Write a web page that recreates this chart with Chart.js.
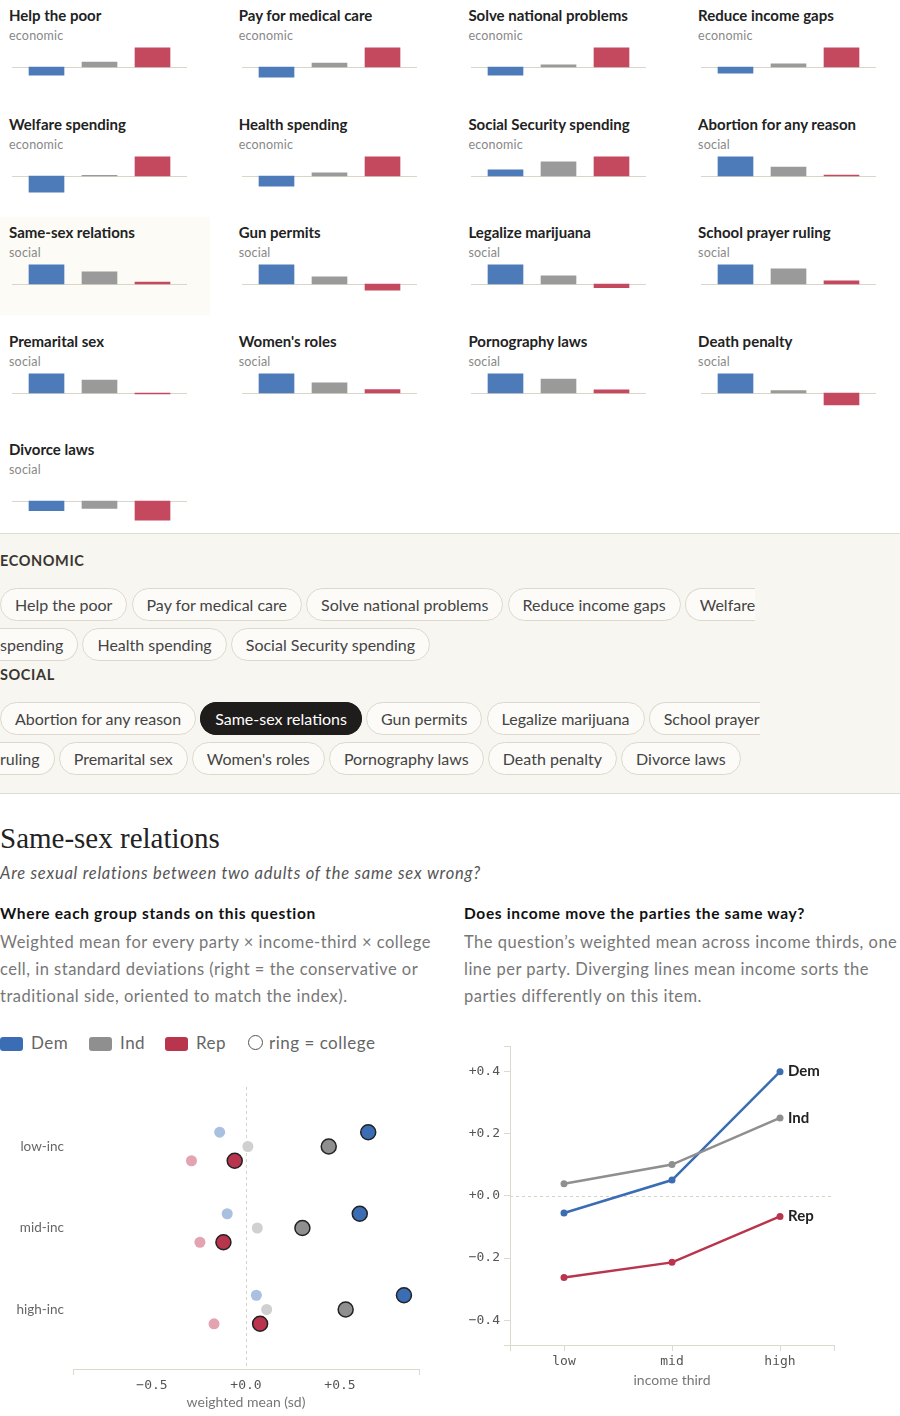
<!DOCTYPE html>
<html>
<head>
<meta charset="utf-8">
<script src="https://cdn.jsdelivr.net/npm/chart.js@4.4.1/dist/chart.umd.min.js"></script>
<style>
  body { margin: 0; width: 900px; height: 1416px; position: relative; overflow: hidden; background: #fff;
         font-family: Lato, "Noto Sans", sans-serif; color: #222; }
  .cell { position: absolute; width: 210px; height: 98px; }
  .cell.sel { background: #fcfbf5; }
  .cell h4 { position: absolute; left: 9px; top: 5px; margin: 0; font-size: 15px; font-weight: 700; line-height: 20px; color: #222; white-space: nowrap; }
  .cell .cat { position: absolute; left: 9px; top: 28px; font-size: 12.5px; line-height: 16px; color: #888; letter-spacing: 0.2px; }
  .cell canvas { position: absolute; left: 0; top: 44px; }
  .panel { position: absolute; left: 0; top: 533px; width: 900px; height: 259px; background: #f7f6f0;
           border-top: 1px solid #e0ddd2; border-bottom: 1px solid #e0ddd2; }
  .panel .lab { position: absolute; left: 0; font-size: 14.5px; font-weight: 700; letter-spacing: 0.6px; line-height: 20px; color: #3a3631; }
  .pills { position: absolute; left: 0; width: 761px; line-height: 40px; font-size: 16px; }
  .pill { padding: 6px 14px; border: 1px solid #dcd8cb; border-radius: 17px; background: #fcfbf8; color: #444; }
  .pill.on { background: #1f1d1b; border-color: #1f1d1b; color: #fff; }
  .abs { position: absolute; white-space: nowrap; }
  h1 { margin: 0; font-family: "Liberation Serif", "DejaVu Serif", serif; font-weight: 400; font-size: 29px; line-height: 36px; color: #222; }
  .q { font-style: italic; font-size: 16.5px; line-height: 22px; color: #555; letter-spacing: 0.75px; }
  .hd { font-weight: 700; font-size: 15.5px; line-height: 20px; color: #111; letter-spacing: 0.65px; }
  .body { font-size: 16.5px; line-height: 27px; color: #777; letter-spacing: 0.5px; }
  .leg { font-size: 17px; line-height: 20px; color: #666; letter-spacing: 0.5px; }
  .sw { position: absolute; top: 1037px; width: 23px; height: 14px; border-radius: 3px; }
  .ring { position: absolute; top: 1035px; left: 248px; width: 13px; height: 13px; border: 1.5px solid #555; border-radius: 50%; }
  canvas.main { position: absolute; }
</style>
</head>
<body>
<div id="grid"></div>

<div class="panel">
  <div class="lab" style="top:17px">ECONOMIC</div>
  <div class="pills" id="pillsEco" style="top:51px"></div>
  <div class="lab" style="top:131px">SOCIAL</div>
  <div class="pills" id="pillsSoc" style="top:165px"></div>
</div>

<div class="abs" style="left:0;top:820px"><h1>Same-sex relations</h1></div>
<div class="abs q" style="left:0;top:862px">Are sexual relations between two adults of the same sex wrong?</div>

<div class="abs hd" style="left:0;top:903px">Where each group stands on this question</div>
<div class="abs body" style="left:0;top:929px">Weighted mean for every party × income-third × college<br>cell, in standard deviations (right = the conservative or<br>traditional side, oriented to match the index).</div>

<div class="abs hd" style="left:464px;top:903px">Does income move the parties the same way?</div>
<div class="abs body" style="left:464px;top:929px">The question’s weighted mean across income thirds, one<br>line per party. Diverging lines mean income sorts the<br>parties differently on this item.</div>

<span class="sw" style="left:0;background:#3a6db4"></span><span class="abs leg" style="left:31px;top:1033px">Dem</span>
<span class="sw" style="left:89px;background:#8f8f8f"></span><span class="abs leg" style="left:120px;top:1033px">Ind</span>
<span class="sw" style="left:165px;background:#b9354d"></span><span class="abs leg" style="left:196px;top:1033px">Rep</span>
<span class="ring"></span><span class="abs leg" style="left:269px;top:1033px">ring = college</span>

<canvas id="dotChart" class="main" width="440" height="356" style="left:0;top:1060px"></canvas>
<canvas id="lineChart" class="main" width="450" height="381" style="left:450px;top:1035px"></canvas>

<script>
// ---- data ----
const itemNames = ['Help the poor', 'Pay for medical care', 'Solve national problems', 'Reduce income gaps',
  'Welfare spending', 'Health spending', 'Social Security spending', 'Abortion for any reason',
  'Same-sex relations', 'Gun permits', 'Legalize marijuana', 'School prayer ruling',
  'Premarital sex', "Women's roles", 'Pornography laws', 'Death penalty', 'Divorce laws'];
const itemGroups = ['economic', 'economic', 'economic', 'economic', 'economic', 'economic', 'economic',
  'social', 'social', 'social', 'social', 'social', 'social', 'social', 'social', 'social', 'social'];
// party means per item, scaled so the largest bar in each panel is 1
const demItem = [-0.42, -0.53, -0.42, -0.32, -0.84, -0.53, 0.32, 1.00, 1.00, 1.00, 1.00, 1.00, 1.00, 1.00, 1.00, 1.00, -0.51];
const indItem = [0.26, 0.21, 0.11, 0.16, 0.03, 0.16, 0.74, 0.47, 0.63, 0.37, 0.42, 0.79, 0.68, 0.53, 0.72, 0.12, -0.39];
const repItem = [1.00, 1.00, 1.00, 1.00, 1.00, 1.00, 1.00, 0.05, 0.10, -0.32, -0.19, 0.16, -0.05, 0.18, 0.16, -0.62, -1.00];
const selectedItem = 'Same-sex relations';

const parties = ['Dem', 'Ind', 'Rep'];
const incomeRows = ['low-inc', 'mid-inc', 'high-inc'];
const demNonCollege = [-0.14, -0.10, 0.055];
const demCollege = [0.65, 0.605, 0.84];
const indNonCollege = [0.01, 0.06, 0.11];
const indCollege = [0.44, 0.30, 0.53];
const repNonCollege = [-0.29, -0.245, -0.17];
const repCollege = [-0.06, -0.12, 0.075];
const dotTicks = [-0.5, 0, 0.5];

const incomeThirds = ['low', 'mid', 'high'];
const demTrend = [-0.055, 0.051, 0.40];
const indTrend = [0.039, 0.101, 0.251];
const repTrend = [-0.263, -0.214, -0.066];
const trendTicks = [-0.4, -0.2, 0, 0.2, 0.4];

// ---- styles ----
const miniCol = ['#4d7ab8', '#9a9a9a', '#c4495f'];
const mainCol = ['#3a6db4', '#8f8f8f', '#b9354d'];
const lightCol = ['#a9c0e0', '#d0d0d0', '#e3a3b1'];
const axisCol = '#ddd9cc';
const mono = { family: '"DejaVu Sans Mono", monospace', size: 13 };

Chart.defaults.font.family = 'Lato, "Noto Sans", sans-serif';
Chart.defaults.animation = false;
Chart.defaults.plugins.legend.display = false;
Chart.defaults.plugins.tooltip.enabled = false;

function fmt(v) {
  return (v < 0 ? '\u2212' : '+') + Math.abs(v).toFixed(1);
}

// zero rule drawn from the chart's own scale
const zeroRule = {
  id: 'zeroRule',
  beforeDatasetsDraw(chart, args, opts) {
    const { ctx, chartArea: a, scales } = chart;
    const ext = opts.ext || 0;
    ctx.save();
    ctx.strokeStyle = opts.color;
    ctx.lineWidth = 1;
    ctx.setLineDash(opts.dash || []);
    ctx.beginPath();
    if (opts.axis === 'x') {
      const x = Math.round(scales.x.getPixelForValue(0)) + 0.5;
      ctx.moveTo(x, a.top);
      ctx.lineTo(x, a.bottom);
    } else {
      const y = Math.round(scales.y.getPixelForValue(0)) + 0.5;
      ctx.moveTo(a.left - ext, y);
      ctx.lineTo(a.right + ext, y);
    }
    ctx.stroke();
    ctx.restore();
  }
};

// ---- small multiples ----
const grid = document.getElementById('grid');
itemNames.forEach((name, k) => {
  const r = Math.floor(k / 4), c = k % 4;
  const cell = document.createElement('div');
  cell.className = 'cell' + (name === selectedItem ? ' sel' : '');
  cell.style.left = (c * 229.7) + 'px';
  cell.style.top = (r * 108.5) + 'px';
  cell.innerHTML = '<h4>' + name + '</h4><div class="cat">' + itemGroups[k] + '</div><canvas width="200" height="46"></canvas>';
  grid.appendChild(cell);

  new Chart(cell.querySelector('canvas'), {
    type: 'bar',
    data: {
      labels: parties,
      datasets: [{
        data: [demItem[k], indItem[k], repItem[k]],
        backgroundColor: miniCol,
        barThickness: 35
      }]
    },
    options: {
      responsive: false,
      devicePixelRatio: 1,
      layout: { padding: { left: 20, right: 21, top: 0, bottom: 0 } },
      scales: {
        x: { display: false },
        y: { display: false, min: -1.2, max: 1.2 }
      },
      plugins: { zeroRule: { axis: 'y', color: '#d9d5c9', ext: 8 } }
    },
    plugins: [zeroRule]
  });
});

// ---- topic pills ----
function addPills(el, group) {
  el.innerHTML = itemNames
    .filter((n, k) => itemGroups[k] === group)
    .map(n => '<span class="pill' + (n === selectedItem ? ' on' : '') + '">' + n + '</span>')
    .join(' ');
}
addPills(document.getElementById('pillsEco'), 'economic');
addPills(document.getElementById('pillsSoc'), 'social');

// ---- dot plot ----
const partyOffset = [-0.175, 0, 0.175];
function dotSet(vals, p, college) {
  return {
    data: vals.map((v, i) => ({ x: v, y: i + partyOffset[p] })),
    backgroundColor: college ? mainCol[p] : lightCol[p],
    borderColor: college ? '#222' : lightCol[p],
    borderWidth: college ? 1.5 : 0,
    pointRadius: college ? 7.5 : 5.5
  };
}

new Chart(document.getElementById('dotChart'), {
  type: 'scatter',
  data: {
    datasets: [
      dotSet(demNonCollege, 0, false), dotSet(indNonCollege, 1, false), dotSet(repNonCollege, 2, false),
      dotSet(demCollege, 0, true), dotSet(indCollege, 1, true), dotSet(repCollege, 2, true)
    ]
  },
  options: {
    responsive: false,
    devicePixelRatio: 1,
    layout: { padding: { left: 0, top: 27, right: 21, bottom: 5 } },
    scales: {
      x: {
        min: -0.92, max: 0.92,
        afterBuildTicks: s => { s.ticks = [s.min, ...dotTicks, s.max].map(v => ({ value: v })); },
        afterFit: s => { s.height = 42; },
        border: { color: axisCol },
        grid: {
          drawOnChartArea: false, tickLength: 6,
          color: c => (c.tick && dotTicks.includes(c.tick.value)) ? 'rgba(0,0,0,0)' : axisCol
        },
        ticks: {
          padding: 3, autoSkip: false, maxRotation: 0, font: mono, color: '#555',
          callback: v => dotTicks.includes(v) ? fmt(v) : ''
        },
        title: { display: true, text: 'weighted mean (sd)', padding: 0, font: { size: 14 }, color: '#777' }
      },
      y: {
        min: -0.73, max: 2.73, reverse: true,
        afterBuildTicks: s => { s.ticks = incomeRows.map((n, i) => ({ value: i })); },
        afterFit: s => { s.width = 73; },
        border: { display: false },
        grid: { display: false, drawTicks: false },
        ticks: { padding: 9, font: { size: 13.5 }, color: '#666', callback: v => incomeRows[v] }
      }
    },
    plugins: { zeroRule: { axis: 'x', color: '#d6d2c6', dash: [3, 3] } }
  },
  plugins: [zeroRule]
});

// ---- income trend lines ----
const endLabels = {
  id: 'endLabels',
  afterDatasetsDraw(chart) {
    const ctx = chart.ctx;
    chart.data.datasets.forEach((ds, i) => {
      const pts = chart.getDatasetMeta(i).data;
      const pt = pts[pts.length - 1];
      ctx.save();
      ctx.font = 'bold 15px Lato, "Noto Sans", sans-serif';
      ctx.fillStyle = '#222';
      ctx.textBaseline = 'middle';
      ctx.fillText(ds.label, pt.x + 8, pt.y);
      ctx.restore();
    });
  }
};

function trendSet(vals, p) {
  return {
    label: parties[p],
    data: vals.map((v, i) => ({ x: i, y: v })),
    borderColor: mainCol[p],
    backgroundColor: mainCol[p],
    borderWidth: 2.5,
    pointRadius: 3.5,
    pointBorderWidth: 0,
    tension: 0
  };
}

new Chart(document.getElementById('lineChart'), {
  type: 'line',
  data: { datasets: [trendSet(indTrend, 1), trendSet(demTrend, 0), trendSet(repTrend, 2)] },
  options: {
    responsive: false,
    devicePixelRatio: 1,
    layout: { padding: { left: 0, top: 0, right: 66, bottom: 26 } },
    scales: {
      x: {
        type: 'linear', min: -0.5, max: 2.5,
        afterBuildTicks: s => { s.ticks = [s.min, 0, 1, 2, s.max].map(v => ({ value: v })); },
        afterFit: s => { s.height = 45; },
        border: { color: axisCol },
        grid: { drawOnChartArea: false, tickLength: 6, color: axisCol },
        ticks: {
          padding: 3, autoSkip: false, maxRotation: 0, font: mono, color: '#555',
          callback: v => Number.isInteger(v) ? incomeThirds[v] : ''
        },
        title: { display: true, text: 'income third', padding: { top: 0, bottom: 1 }, font: { size: 14 }, color: '#777' }
      },
      y: {
        min: -0.48, max: 0.48,
        afterBuildTicks: s => { s.ticks = [s.min, ...trendTicks, s.max].map(v => ({ value: v })); },
        afterFit: s => { s.width = 60; },
        border: { color: axisCol },
        grid: { drawOnChartArea: false, tickLength: 6, color: axisCol },
        ticks: {
          padding: 4, autoSkip: false, font: mono, color: '#555',
          callback: v => trendTicks.includes(v) ? fmt(v) : ''
        }
      }
    },
    plugins: { zeroRule: { axis: 'y', color: '#d6d2c6', dash: [3, 3] } }
  },
  plugins: [zeroRule, endLabels]
});
</script>
</body>
</html>
